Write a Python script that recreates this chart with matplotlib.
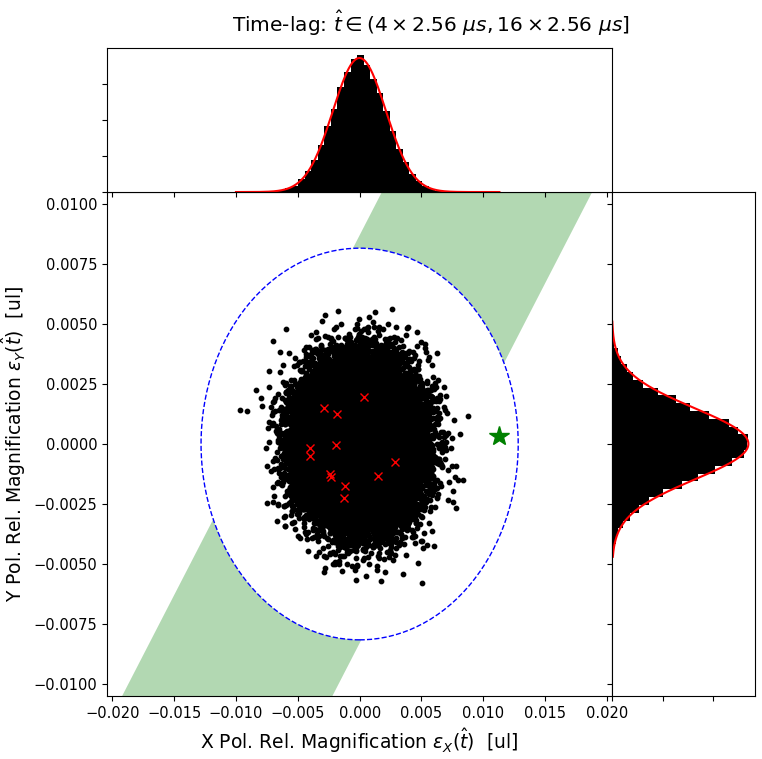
import numpy as np
import matplotlib
matplotlib.use("Agg")
import matplotlib.pyplot as plt
from matplotlib.patches import Ellipse

# cloud of relative magnifications (shape)
n_samples = 40000
x_mean, x_std = 0.0, 0.00215
y_mean, y_std = 0.0, 0.00148

# marked measurements (red crosses)
meas_x = [0.00035, -0.00285, -0.00183, -0.00191, -0.00398, -0.00398,
          0.00287, -0.00237, -0.00232, 0.00150, -0.00116, -0.00127]
meas_y = [0.00194, 0.00152, 0.00126, -0.00005, -0.00017, -0.00049,
          -0.00076, -0.00126, -0.00136, -0.00133, -0.00176, -0.00225]

# the star
star_x, star_y = 0.01123, 0.00033

# confidence ellipse
ell_cx, ell_cy = 0.0, 0.0
ell_ax, ell_ay = 0.01282, 0.00816

# band  y = x + c  for c between these two
band_lo, band_hi = -0.0083, 0.0087

# ranges of the red fit curves
curve_x_range = [-0.0100, 0.0113]
curve_y_range = [-0.0047, 0.0051]

xlim = (-0.0204, 0.0204)
ylim = (-0.0105, 0.0105)

rng = np.random.default_rng(7)
xs = rng.normal(x_mean, x_std, n_samples)
ys = rng.normal(y_mean, y_std, n_samples)

fig = plt.figure(figsize=(7.62, 7.59), dpi=100)
ax = fig.add_axes([0.1408, 0.083, 0.6623, 0.664])
ax_top = fig.add_axes([0.1408, 0.747, 0.6623, 0.1893], sharex=ax)
ax_right = fig.add_axes([0.8031, 0.083, 0.188, 0.664], sharey=ax)

# band + white ellipse on top of it
bx = np.array([-0.05, 0.05])
ax.fill_between(bx, bx + band_lo, bx + band_hi, color='green', alpha=0.3, lw=0, zorder=1)
ax.add_patch(Ellipse((ell_cx, ell_cy), 2 * ell_ax, 2 * ell_ay, facecolor='white',
                     edgecolor='blue', ls='--', lw=1, zorder=2))

ax.scatter(xs, ys, s=10, c='black', zorder=3)
ax.plot(meas_x, meas_y, 'rx', ms=6, mew=1, zorder=4)
ax.plot(star_x, star_y, '*', color='green', ms=15, zorder=5)

ax.set_xlim(*xlim)
ax.set_ylim(*ylim)
ax.tick_params(labelsize=10.5)
ax.set_xlabel(r'X Pol. Rel. Magnification $\varepsilon_X(\hat{t})$  [ul]', fontsize=13.5)
ax.set_ylabel(r'Y Pol. Rel. Magnification $\varepsilon_Y(\hat{t})$  [ul]', fontsize=13.5)

# top histogram
ax_top.hist(xs, bins=35, density=True, color='black')
cx = np.linspace(curve_x_range[0], curve_x_range[1], 300)
ax_top.plot(cx, np.exp(-0.5 * ((cx - xs.mean()) / xs.std()) ** 2) / (xs.std() * np.sqrt(2 * np.pi)),
            'r-', lw=1.5)
ax_top.tick_params(labelbottom=False, labelleft=False)

# right histogram
ax_right.hist(ys, bins=35, density=True, color='black', orientation='horizontal')
cy = np.linspace(curve_y_range[0], curve_y_range[1], 300)
ax_right.plot(np.exp(-0.5 * ((cy - ys.mean()) / ys.std()) ** 2) / (ys.std() * np.sqrt(2 * np.pi)), cy,
              'r-', lw=1.5)
ax_right.tick_params(labelbottom=False, labelleft=False)

fig.text(0.566, 0.969, r'Time-lag: $\hat{t} \in (4 \times 2.56\ \mu s, 16 \times 2.56\ \mu s]$',
         ha='center', va='center', fontsize=14.5)

fig.savefig('out.png', dpi=100)
